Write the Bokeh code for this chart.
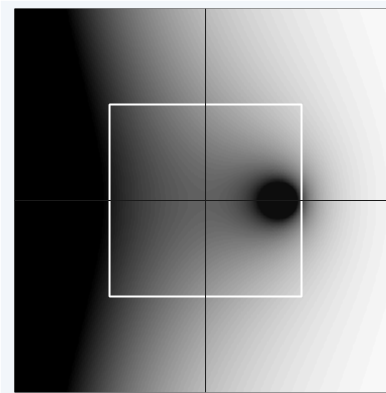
import numpy as np
from bokeh.plotting import figure
from bokeh.models import Span, LinearColorMapper
from bokeh.palettes import Greys256
from bokeh.embed import file_html
from bokeh.resources import INLINE

# Field: uniform drift plus a logarithmic point source
source_x = [0.805]
source_y = [0.0]
source_strength = [0.815]
level_floor = [-0.568]    # field level rendered as pure black
shade_rate = [1.1]        # how quickly the shade saturates towards white
grid_extent = [-2.0, 2.0]
grid_size = [500]

# Reference box and crosshair
box_center = [0.0, 0.0]
box_size = [2.0, 2.0]
cross_at = [0.0, 0.0]

n = grid_size[0]
xs = np.linspace(grid_extent[0], grid_extent[1], n)
ys = np.linspace(grid_extent[0], grid_extent[1], n)
X, Y = np.meshgrid(xs, ys)
R = np.hypot(X - source_x[0], Y - source_y[0])
R = np.maximum(R, 1e-6)
phi = X + source_strength[0] * np.log(R)
shade = 1.0 - np.exp(-shade_rate[0] * (phi - level_floor[0]))
shade = np.clip(shade, 0.0, 1.0)

palette = list(Greys256[::4]) + ["#ffffff"]
mapper = LinearColorMapper(palette=palette, low=0.0, high=1.0)

p = figure(width=386, height=393, x_range=(-1.99, 1.885), y_range=(-2.0, 2.0),
           output_backend="svg", toolbar_location=None,
           x_axis_location=None, y_axis_location=None,
           min_border_left=14, min_border_top=8, min_border_right=0, min_border_bottom=1)
p.border_fill_color = "#f2f6fa"
p.background_fill_color = "#000000"
p.outline_line_color = None
p.grid.visible = False

p.image(image=[shade], x=grid_extent[0], y=grid_extent[0],
        dw=grid_extent[1] - grid_extent[0], dh=grid_extent[1] - grid_extent[0],
        color_mapper=mapper)

p.add_layout(Span(location=cross_at[0], dimension="height", line_color="#1a1a1a", line_width=1))
p.add_layout(Span(location=cross_at[1], dimension="width", line_color="#1a1a1a", line_width=1))

p.rect(x=box_center[0], y=box_center[1], width=box_size[0], height=box_size[1],
       fill_color="white", fill_alpha=0.05, line_color="white", line_width=2)

open("out.html", "w").write(file_html(p, INLINE))
